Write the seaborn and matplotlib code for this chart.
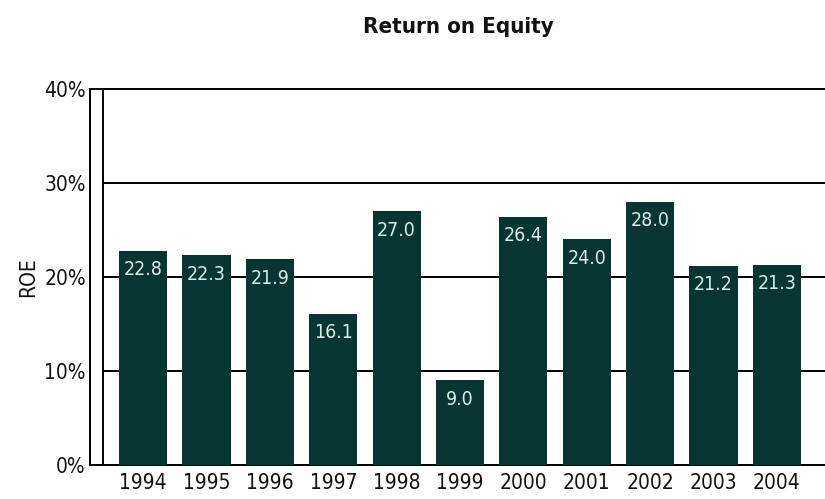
import matplotlib
matplotlib.use('Agg')
import matplotlib.pyplot as plt
import seaborn as sns
import pandas as pd

years = ['1994', '1995', '1996', '1997', '1998', '1999', '2000', '2001', '2002', '2003', '2004']
roe = [22.8, 22.3, 21.9, 16.1, 27.0, 9.0, 26.4, 24.0, 28.0, 21.2, 21.3]
yticks = [0, 10, 20, 30, 40]
ytick_labels = ['0%', '10%', '20%', '30%', '40%']

df = pd.DataFrame({'year': years, 'roe': roe})

sns.set_style('white')
plt.rcParams['font.family'] = ['DejaVu Sans']
plt.rcParams['font.stretch'] = 'condensed'

fig = plt.figure(figsize=(8.25, 4.99), dpi=100)
ax = fig.add_axes([0.109, 0.068, 0.891, 0.754])

bar_color = '#073533'
sns.barplot(data=df, x='year', y='roe', color=bar_color, width=0.76,
            saturation=1, linewidth=0, ax=ax, zorder=3)

ax.set_xlim(-0.84, 10.76)
ax.set_ylim(0, 40)

############ grid lines and the inner vertical line
inner_x = -0.63
for yv in yticks[1:-1]:
    ax.hlines(yv, inner_x, 10.76, color='black', lw=1.4, zorder=1)
ax.axvline(inner_x, color='black', lw=1.4, zorder=1)

for side in ['left', 'top', 'bottom']:
    ax.spines[side].set_visible(True)
    ax.spines[side].set_color('black')
    ax.spines[side].set_linewidth(1.4)
ax.spines['right'].set_visible(False)

ax.set_yticks(yticks)
ax.set_yticklabels(ytick_labels, fontsize=15)
ax.tick_params(axis='both', length=0, colors='#111111')
ax.tick_params(axis='x', labelsize=15, pad=6)
ax.tick_params(axis='y', pad=3)
ax.set_xlabel('')
ax.set_ylabel('ROE', fontsize=15, labelpad=4, color='#111111')

########### value labels inside bars
for i, v in enumerate(roe):
    ax.annotate(f'{v:.1f}', (i, v), xytext=(0, -7), textcoords='offset points',
                ha='center', va='top', color='#d9eee8', fontsize=14, zorder=4)

fig.suptitle('Return on Equity', x=0.555, y=0.965, fontsize=16, fontweight='semibold',
             color='#111111')

fig.savefig('out.png', dpi=100)
